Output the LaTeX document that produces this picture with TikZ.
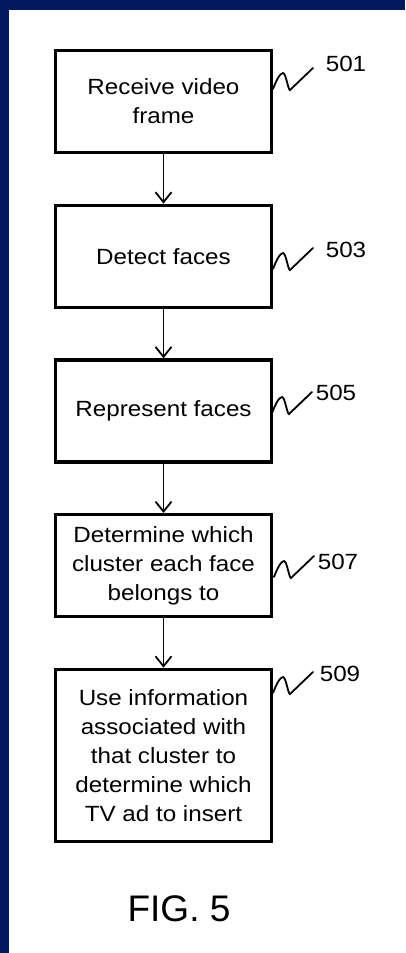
\documentclass[tikz,border=0pt]{standalone}
\usepackage{fontspec}
\setmainfont{Liberation Sans}
\newfontfamily\widefont{Liberation Sans}[FakeStretch=1.1]
\usetikzlibrary{positioning,arrows.meta}
\definecolor{framenavy}{RGB}{0,25,95}
\tikzset{
  stepbox/.style={draw,line width=3.2pt,minimum width=216pt,minimum height=102pt,
    align=center,inner sep=0pt,font=\widefont\fontsize{22}{29}\selectfont},
  flow/.style={-{Straight Barb[length=10pt,width=16pt]},line width=1.8pt},
  squig/.style={line width=1.8pt,line cap=round},
  refnum/.style={inner sep=0pt,font=\widefont\fontsize{22}{26}\selectfont}
}
% lead line from a box to its reference number
\newcommand\leadline[1]{\draw[squig] (#1) .. controls +(3,-8) and +(-3,0) .. ++(10,-16)
  .. controls +(3,0) and +(-2,0) .. ++(7,17) -- ++(23,-22);}
\begin{document}
\begin{tikzpicture}[x=1pt,y=-1pt,node distance=49.5pt]
                \useasboundingbox (0,0) rectangle (405,953);
                \fill[white] (0,0) rectangle (405,953);
                \fill[framenavy] (0,0) rectangle (405,10);
                \fill[framenavy] (0,0) rectangle (9,953);
                % steps
                \node[stepbox] (s501) at (163.5,101.5) {Receive video\\frame};
                \node[stepbox,below=of s501] (s503) {Detect faces};
                \node[stepbox,below=of s503] (s505) {Represent faces};
                \node[stepbox,below=of s505] (s507) {Determine which\\cluster each face\\belongs to};
                \node[stepbox,below=of s507,minimum height=172pt] (s509) {Use information\\associated with\\that cluster to\\determine which\\TV ad to insert};
                \draw[flow] (s501) -- (s503);
                \draw[flow] (s503) -- (s505);
                \draw[flow] (s505) -- (s507);
                \draw[flow] (s507) -- (s509);
                % reference numbers
                \coordinate (q501) at (273,89);
                \coordinate (q503) at (273,269);
                \coordinate (q505) at (272,413);
                \coordinate (q507) at (274,577);
                \coordinate (q509) at (273,693);
                \leadline{q501}
                \leadline{q503}
                \leadline{q505}
                \leadline{q507}
                \leadline{q509}
                \node[refnum] (n501) at (346,64) {501};
                \node[refnum] (n503) at (346,250) {503};
                \node[refnum] (n505) at (336,393) {505};
                \node[refnum] (n507) at (338,562) {507};
                \node[refnum] (n509) at (340,674) {509};
                \node[inner sep=0pt,font=\fontsize{37}{40}\selectfont] (fig) at (179,908.5) {FIG. 5};
\end{tikzpicture}
\end{document}
